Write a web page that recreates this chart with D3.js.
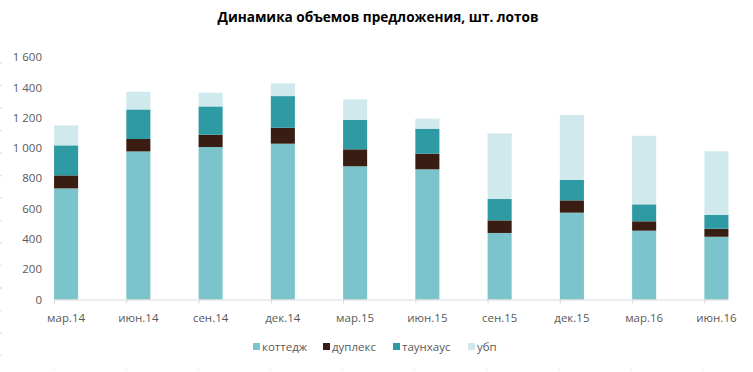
<!DOCTYPE html>
<html><head><meta charset="utf-8">
<script src="https://cdn.jsdelivr.net/npm/d3@7"></script>
<style>
html,body{margin:0;padding:0;background:#fff;}
text{font-family:"Open Sans",sans-serif;}
</style></head>
<body><svg id="c" width="753" height="372"></svg>
<script>
const title = "Динамика объемов предложения, шт. лотов";
const categories = ["мар.14","июн.14","сен.14","дек.14","мар.15","июн.15","сен.15","дек.15","мар.16","июн.16"];
const seriesNames = ["коттедж","дуплекс","таунхаус","убп"];
const kottedzh = [733, 977, 1006, 1028, 879, 859, 439, 573, 454, 414];
const dupleks  = [86, 82, 81, 105, 112, 103, 83, 81, 62, 53];
const taunhaus = [198, 195, 187, 209, 195, 165, 141, 136, 112, 92];
const ubp      = [132, 117, 90, 84, 135, 66, 433, 427, 452, 419];
const yTicks = [0, 200, 400, 600, 800, 1000, 1200, 1400, 1600];
const colors = ["#7bc4cb", "#3a1d12", "#2e9aa4", "#cfe9ed"];

const svg = d3.select("#c");
const rows = categories.map((c, i) => ({cat: c, "коттедж": kottedzh[i], "дуплекс": dupleks[i], "таунхаус": taunhaus[i], "убп": ubp[i]}));
const stacked = d3.stack().keys(seriesNames)(rows);

const x = d3.scaleBand().domain(categories).range([30, 752.5]).paddingInner(0.667).paddingOuter(0.333);
const y = d3.scaleLinear().domain([0, 1600]).range([299.5, 57]);
const color = d3.scaleOrdinal().domain(seriesNames).range(colors);
const loc = d3.formatLocale({decimal: ",", thousands: " ", grouping: [3], currency: ["", ""]});
const fmt = loc.format(",d");

// faint frame dashes (left and bottom)
svg.append("line").attr("x1", 1).attr("x2", 1).attr("y1", 62).attr("y2", 372)
  .attr("stroke", "#d9d9d9").attr("stroke-width", 1.2).attr("stroke-dasharray", "2,20.5");
svg.append("line").attr("x1", 53).attr("x2", 753).attr("y1", 369.5).attr("y2", 369.5)
  .attr("stroke", "#e3e3e3").attr("stroke-width", 1).attr("stroke-dasharray", "1.5,70.7");

// title
svg.append("text").attr("x", 378).attr("y", 22).attr("text-anchor", "middle")
  .attr("font-size", 13.6).attr("font-weight", "bold").attr("fill", "#000").text(title);

// y axis labels
const yAxis = d3.axisLeft(y).tickValues(yTicks).tickSize(0).tickPadding(3).tickFormat(fmt);
const ya = svg.append("g").attr("transform", "translate(45,0)").call(yAxis);
ya.select(".domain").remove();
ya.selectAll("text").attr("font-size", 11.5).attr("fill", "#595959").style("font-family", "'Open Sans',sans-serif");

// bars
svg.append("g").selectAll("g").data(stacked).join("g")
  .attr("fill", d => color(d.key))
  .selectAll("rect").data(d => d).join("rect")
  .attr("x", d => x(d.data.cat))
  .attr("width", x.bandwidth())
  .attr("y", d => y(d[1]))
  .attr("height", d => y(d[0]) - y(d[1]));

// x axis line and ticks
const x0 = x(categories[0]), x1 = x(categories[categories.length - 1]) + x.bandwidth();
svg.append("line").attr("x1", x0).attr("x2", x1).attr("y1", y(0) + 0.5).attr("y2", y(0) + 0.5)
  .attr("stroke", "#d9d9d9").attr("stroke-width", 1);
svg.append("g").selectAll("line").data(categories).join("line")
  .attr("x1", d => x(d) + 0.5).attr("x2", d => x(d) + 0.5)
  .attr("y1", y(0)).attr("y2", y(0) + 4)
  .attr("stroke", "#d9d9d9");
svg.append("g").selectAll("text").data(categories).join("text")
  .attr("x", d => x(d) + x.bandwidth() / 2).attr("y", 321.5)
  .attr("text-anchor", "middle").attr("font-size", 11.5).attr("fill", "#595959")
  .text(d => d);

// legend
const legendX = [253, 323, 393, 468];
const lg = svg.append("g").selectAll("g").data(seriesNames).join("g")
  .attr("transform", (d, i) => `translate(${legendX[i]},343)`);
lg.append("rect").attr("width", 7).attr("height", 7).attr("fill", d => color(d));
lg.append("text").attr("x", 9).attr("y", 7.5).attr("font-size", 11.5).attr("fill", "#595959").text(d => d);
</script></body></html>
